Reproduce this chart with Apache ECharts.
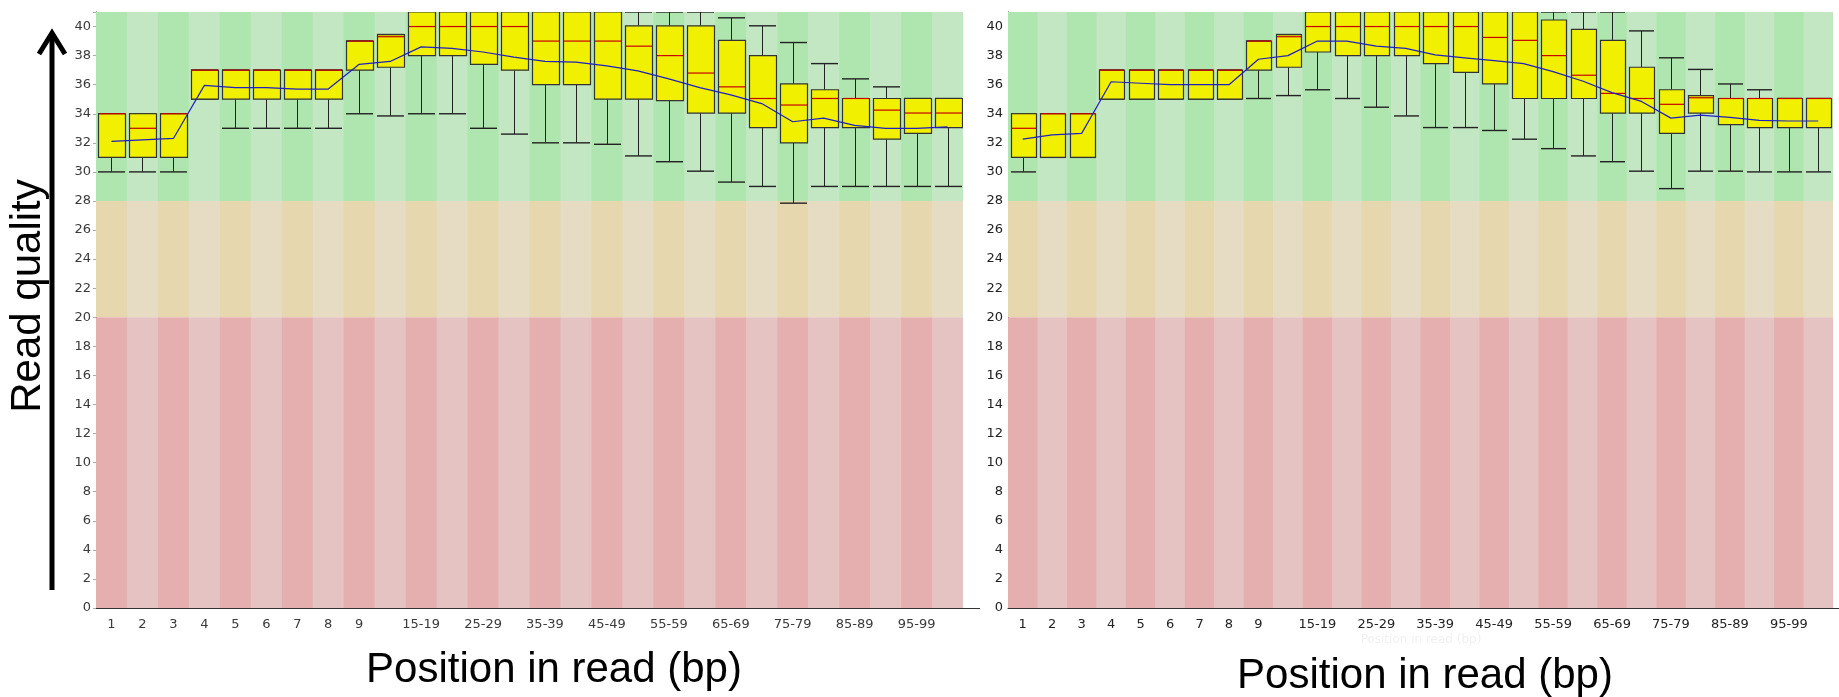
<!DOCTYPE html>
<html>
<head>
<meta charset="utf-8">
<script src="https://cdn.jsdelivr.net/npm/echarts@6/dist/echarts.min.js"></script>
<style>
html,body{margin:0;padding:0;background:#fff;}
#chart{width:1839px;height:697px;}
</style>
</head>
<body>
<div id="chart"></div>
<script>
// ---- Data ----
const categories = ['1','2','3','4','5','6','7','8','9','10-14','15-19','20-24','25-29','30-34','35-39','40-44','45-49','50-54','55-59','60-64','65-69','70-74','75-79','80-84','85-89','90-94','95-99','100-101'];
const yTicks = [0,2,4,6,8,10,12,14,16,18,20,22,24,26,28,30,32,34,36,38,40];

// left sample: [lowWhisker, q1, median, q3, highWhisker]
const leftLow    = [30,30,30,35,33,33,33,33,34,33.85,34,34,33,32.6,32,32,31.9,31.1,30.7,30.05,29.3,29,27.85,29,29,29,29,29];
const leftQ1     = [31,31,31,35,35,35,35,35,37,37.2,38,38,37.4,37,36,36,35,35,34.9,34.05,34.05,33.05,32,33.05,33.05,32.25,32.65,33.05];
const leftMedian = [34,33,34,37,37,37,37,37,39,39.3,40,40,40,40,39,39,39,38.65,38,36.8,35.85,35.05,34.6,35.05,35.05,34.25,34.05,34.05];
const leftQ3     = [34,34,34,37,37,37,37,37,39,39.45,41,41,41,41,41,41,41,40.05,40.05,40.05,39.05,38,36.05,35.65,35.05,35.05,35.05,35.05];
const leftHigh   = [34,34,34,37,37,37,37,37,39,39.45,41,41,41,41,41,41,41,41,41,41,40.6,40.05,38.9,37.45,36.4,35.85,35.05,35.05];
const leftMean   = [32.1,32.2,32.3,35.95,35.8,35.8,35.7,35.7,37.4,37.6,38.6,38.5,38.25,37.9,37.6,37.55,37.3,36.95,36.4,35.8,35.3,34.7,33.45,33.7,33.2,33.0,33.0,33.1];

// right sample
const rightLow    = [30,31,31,35,35,35,35,35,35.05,35.25,35.65,35.05,34.45,33.85,33.05,33.05,32.85,32.25,31.6,31.1,30.7,30.05,28.85,30.05,30.05,30,30,30];
const rightQ1     = [31,31,31,35,35,35,35,35,37,37.2,38.25,38,38,38,37.45,36.85,36.05,35.05,35.05,35.05,34.05,34.05,32.65,34.05,33.25,33.05,33.05,33.05];
const rightMedian = [33,34,34,37,37,37,37,37,39,39.3,40,40,40,40,40,40,39.25,39.05,38,36.65,35.4,35.05,34.65,35.1,35.05,35.05,35.05,35.05];
const rightQ3     = [34,34,34,37,37,37,37,37,39,39.45,41,41,41,41,41,41,41,41,40.45,39.8,39.05,37.2,35.65,35.25,35.05,35.05,35.05,35.05];
const rightHigh   = [34,34,34,37,37,37,37,37,39,39.45,41,41,41,41,41,41,41,41,41,41,41,39.7,37.85,37.05,36.05,35.65,35.05,35.05];
const rightMean   = [32.25,32.55,32.65,36.2,36.1,36.0,36.0,36.0,37.75,38.0,39.0,39.0,38.65,38.5,38.05,37.85,37.65,37.45,36.9,36.25,35.45,34.85,33.7,33.9,33.75,33.55,33.5,33.5];

const yMax = 41;
const zoneBad = 20, zoneOk = 28;

// ---- Styles ----
const C = {
  good:'#c3e6c3', goodDark:'#afe6af',
  ok:'#e6dcc3', okDark:'#e6d7af',
  bad:'#e6c3c3', badDark:'#e6afaf',
  box:'#f0f000', boxLine:'#333333', median:'#c80000', mean:'#2020c0'
};

function bgItem(params, api){
  const i = api.value(0);
  const w = api.size([1,0])[0];
  const cx = api.coord([i,0])[0];
  const x = cx - w/2;
  const y0 = api.coord([i,0])[1], y20 = api.coord([i,zoneBad])[1], y28 = api.coord([i,zoneOk])[1], yT = api.coord([i,yMax])[1];
  const dark = i % 2 === 0;
  return {type:'group', children:[
    {type:'rect', shape:{x:x, y:yT, width:w+0.6, height:y28-yT}, style:{fill: dark?C.goodDark:C.good}},
    {type:'rect', shape:{x:x, y:y28, width:w+0.6, height:y20-y28}, style:{fill: dark?C.okDark:C.ok}},
    {type:'rect', shape:{x:x, y:y20, width:w+0.6, height:y0-y20}, style:{fill: dark?C.badDark:C.bad}}
  ]};
}

function boxItem(params, api){
  const i = api.value(0);
  const lo = api.coord([i, api.value(1)])[1];
  const q1 = api.coord([i, api.value(2)])[1];
  const md = api.coord([i, api.value(3)])[1];
  const q3 = api.coord([i, api.value(4)])[1];
  const hi = api.coord([i, api.value(5)])[1];
  const cx = Math.round(api.coord([i,0])[0]) + 0.5;
  const w = Math.round(api.size([1,0])[0]*0.86);
  const x0 = Math.round(cx - w/2);
  const ls = {stroke:'#222', lineWidth:1};
  return {type:'group', children:[
    {type:'line', shape:{x1:cx, y1:q3, x2:cx, y2:hi}, style:ls},
    {type:'line', shape:{x1:cx, y1:q1, x2:cx, y2:lo}, style:ls},
    {type:'line', shape:{x1:x0, y1:hi, x2:x0+w, y2:hi}, style:{stroke:'#222', lineWidth:1.4}},
    {type:'line', shape:{x1:x0, y1:lo, x2:x0+w, y2:lo}, style:{stroke:'#222', lineWidth:1.4}},
    {type:'rect', shape:{x:x0+0.5, y:q3, width:w, height:q1-q3}, style:{fill:C.box, stroke:C.boxLine, lineWidth:1.2}},
    {type:'line', shape:{x1:x0+1, y1:md, x2:x0+w, y2:md}, style:{stroke:C.median, lineWidth:1.2}}
  ]};
}

function makeBoxData(lo,q1,md,q3,hi){
  return categories.map((c,i)=>[i,lo[i],q1[i],md[i],q3[i],hi[i]]);
}

const labelFont = {fontFamily:'DejaVu Sans', fontSize:13};

function xAxisFor(gridIndex, color){
  return {
    type:'category', gridIndex, data:categories, boundaryGap:true,
    axisLine:{show:true, lineStyle:{color:'#333', width:1}},
    axisTick:{show:false},
    axisLabel:Object.assign({color, margin:10,
      interval:(idx)=> idx < 9 || (idx >= 10 && (idx-10)%2===0)}, labelFont),
    splitLine:{show:false}
  };
}
function yAxisFor(gridIndex, color, tick){
  return {
    type:'value', gridIndex, min:0, max:yMax, interval:2,
    axisLine:{show:true, lineStyle:{color:'#333', width:1}},
    axisTick:{show:tick, length:3, lineStyle:{color:'#aaa'}},
    axisLabel:Object.assign({color, margin:5,
      formatter:(v)=> yTicks.indexOf(v) >= 0 ? String(v) : ''}, labelFont),
    splitLine:{show:false}
  };
}

const chart = echarts.init(document.getElementById('chart'), null, {renderer:'canvas'});
const option = {
  animation:false,
  backgroundColor:'#ffffff',
  grid:[
    {left:96, top:12, width:867, height:596},
    {left:1008, top:12, width:825, height:596}
  ],
  xAxis:[xAxisFor(0,'#3a3a3a'), xAxisFor(1,'#222')],
  yAxis:[yAxisFor(0,'#3a3a3a', true), yAxisFor(1,'#222', false)],
  series:[
    {type:'custom', xAxisIndex:0, yAxisIndex:0, renderItem:bgItem, data:categories.map((c,i)=>[i]), z:1, silent:true, clip:true},
    {type:'custom', xAxisIndex:1, yAxisIndex:1, renderItem:bgItem, data:categories.map((c,i)=>[i]), z:1, silent:true, clip:true},
    {type:'custom', xAxisIndex:0, yAxisIndex:0, renderItem:boxItem, data:makeBoxData(leftLow,leftQ1,leftMedian,leftQ3,leftHigh), z:3, clip:true,
      encode:{x:0, y:[1,2,3,4,5]}},
    {type:'custom', xAxisIndex:1, yAxisIndex:1, renderItem:boxItem, data:makeBoxData(rightLow,rightQ1,rightMedian,rightQ3,rightHigh), z:3, clip:true,
      encode:{x:0, y:[1,2,3,4,5]}},
    {type:'line', xAxisIndex:0, yAxisIndex:0, data:leftMean, symbol:'none', z:5, lineStyle:{color:C.mean, width:1.2}},
    {type:'line', xAxisIndex:1, yAxisIndex:1, data:rightMean, symbol:'none', z:5, lineStyle:{color:C.mean, width:1.2}}
  ],
  graphic:[
    // axis line extensions
    {type:'line', shape:{x1:96, y1:608.5, x2:980, y2:608.5}, style:{stroke:'#333', lineWidth:1}, z:10},
    {type:'line', shape:{x1:1008, y1:608.5, x2:1839, y2:608.5}, style:{stroke:'#333', lineWidth:1}, z:10},
    // faint hidden axis title in right panel
    {type:'text', x:1421, y:640, style:{text:'Position in read (bp)', fontFamily:'DejaVu Sans', fontSize:12, fill:'#f1f1f1', textAlign:'center', textVerticalAlign:'middle'}},
    // arrow
    {type:'line', shape:{x1:52, y1:590, x2:52, y2:34}, style:{stroke:'#000', lineWidth:5}},
    {type:'polyline', shape:{points:[[39,54],[52,33],[65,54]]}, style:{stroke:'#000', lineWidth:5, fill:null, lineJoin:'miter'}},
    // titles
    {type:'text', x:28, y:296, rotation:Math.PI/2, style:{text:'Read quality', fontFamily:'Liberation Sans', fontSize:42, fill:'#000', textAlign:'center', textVerticalAlign:'middle'}},
    {type:'text', x:554, y:670, style:{text:'Position in read (bp)', fontFamily:'Liberation Sans', fontSize:42, fill:'#000', textAlign:'center', textVerticalAlign:'middle'}},
    {type:'text', x:1425, y:676, style:{text:'Position in read (bp)', fontFamily:'Liberation Sans', fontSize:42, fill:'#000', textAlign:'center', textVerticalAlign:'middle'}}
  ]
};
chart.setOption(option);
</script>
</body>
</html>
